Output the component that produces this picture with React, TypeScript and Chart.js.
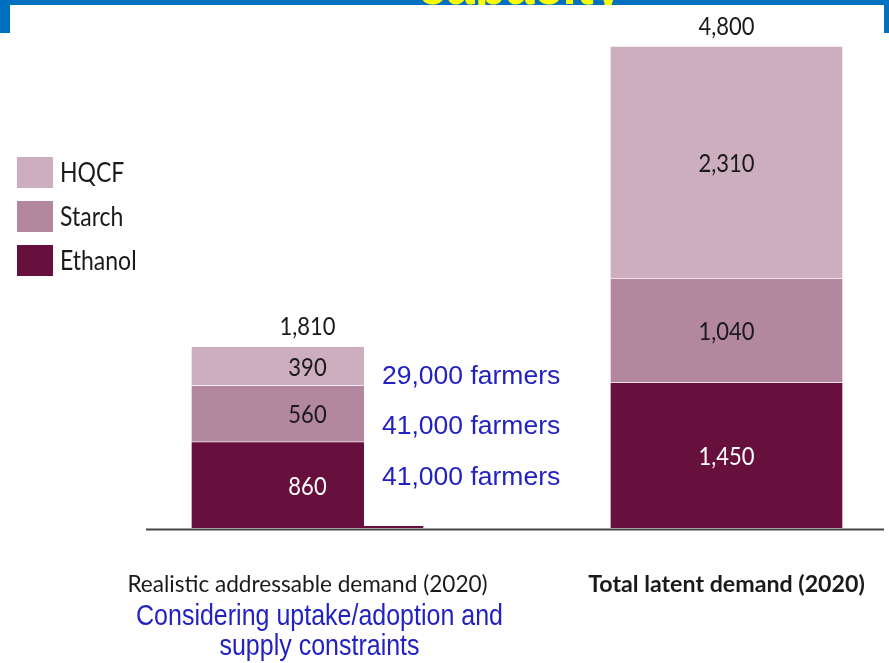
import React, { useEffect, useRef } from 'react';
import { Chart, registerables } from 'chart.js';

Chart.register(...registerables);

const categories = ['Realistic addressable demand (2020)', 'Total latent demand (2020)'];
const ethanol = [860, 1450];
const starch = [560, 1040];
const hqcf = [390, 2310];
const seriesNames = ['Ethanol', 'Starch', 'HQCF'];
const seriesColors = ['#67103E', '#B3889F', '#CDAEBF'];
const legendOrder = ['HQCF', 'Starch', 'Ethanol'];
const farmerNotes = ['29,000 farmers', '41,000 farmers', '41,000 farmers'];
const subtitleLines = ['Considering uptake/adoption and', 'supply constraints'];
const titleFragment = 'capacity';
const yMax = 4800;

const LATO = 'Lato, "Open Sans", sans-serif';
const ARIAL = '"Liberation Sans", Arial, sans-serif';
const NOTE_BLUE = '#2222C2';
const TEXT = '#1a1a1a';

const fmt = (v: number) => v.toLocaleString('en-US');

function stretchedText(ctx: any, text: string, x: number, y: number, sy: number) {
  ctx.save();
  ctx.translate(x, y);
  ctx.scale(1, sy);
  ctx.fillText(text, 0, 0);
  ctx.restore();
}

const framePlugin = {
  id: 'frame',
  beforeDraw(chart: any) {
    const { ctx, width, height } = chart;
    ctx.save();
    ctx.fillStyle = '#ffffff';
    ctx.fillRect(0, 0, width, height);
    ctx.fillStyle = '#0070C0';
    ctx.fillRect(0, 0, width, 33);
    ctx.fillStyle = '#FFFF00';
    ctx.font = 'bold 51px ' + ARIAL;
    ctx.textAlign = 'left';
    ctx.textBaseline = 'alphabetic';
    ctx.fillText(titleFragment, 418, 4);
    ctx.fillStyle = '#ffffff';
    ctx.fillRect(10, 5, 874, 40);
    ctx.restore();
  },
};

const annotatePlugin = {
  id: 'annotate',
  afterDatasetsDraw(chart: any) {
    const { ctx } = chart;
    const yScale = chart.scales.y;
    const base = yScale.getPixelForValue(0);
    ctx.save();

    // baseline axis line
    ctx.strokeStyle = '#444444';
    ctx.lineWidth = 2;
    ctx.beginPath();
    ctx.moveTo(146, base + 1.5);
    ctx.lineTo(884, base + 1.5);
    ctx.stroke();

    const n = chart.data.labels.length;
    const dsCount = chart.data.datasets.length;

    // white panel over right part of first bar
    const first = chart.getDatasetMeta(0).data[0];
    const topFirst = chart.getDatasetMeta(dsCount - 1).data[0];
    const barRight = first.x + first.width / 2;
    ctx.fillStyle = '#ffffff';
    ctx.fillRect(barRight - 60, topFirst.y - 1, 61, base - 2 - (topFirst.y - 1));

    // segment value labels
    ctx.textAlign = 'center';
    ctx.textBaseline = 'middle';
    ctx.font = '22px ' + LATO;
    for (let d = 0; d < dsCount; d++) {
      const meta = chart.getDatasetMeta(d);
      meta.data.forEach((el: any, i: number) => {
        const v = chart.data.datasets[d].data[i];
        ctx.fillStyle = d === 0 ? '#ffffff' : TEXT;
        stretchedText(ctx, fmt(v), el.x, (el.y + el.base) / 2 + 2, 1.12);
      });
    }
    // totals
    for (let i = 0; i < n; i++) {
      let sum = 0;
      for (let d = 0; d < dsCount; d++) sum += chart.data.datasets[d].data[i];
      const topEl = chart.getDatasetMeta(dsCount - 1).data[i];
      ctx.fillStyle = TEXT;
      stretchedText(ctx, fmt(sum), topEl.x, topEl.y - 19, 1.12);
    }

    // farmer notes
    ctx.textAlign = 'left';
    ctx.font = '26.5px ' + ARIAL;
    ctx.fillStyle = NOTE_BLUE;
    farmerNotes.forEach((t, k) => {
      ctx.fillText(t, barRight - 42, topFirst.y + 30 + k * 50.75);
    });

    // subtitle under first category
    ctx.textAlign = 'center';
    ctx.textBaseline = 'alphabetic';
    ctx.font = '25px ' + ARIAL;
    subtitleLines.forEach((t, k) => {
      stretchedText(ctx, t, first.x + 12, 625 + k * 30, 1.15);
    });

    // legend
    ctx.textAlign = 'left';
    ctx.textBaseline = 'middle';
    ctx.font = '23px ' + LATO;
    legendOrder.forEach((name, k) => {
      const idx = seriesNames.indexOf(name);
      const y = 157 + k * 44;
      ctx.fillStyle = seriesColors[idx];
      ctx.fillRect(17, y, 36, 31);
      ctx.fillStyle = TEXT;
      stretchedText(ctx, name, 60, y + 17, 1.14);
    });

    ctx.restore();
  },
};

export default function App() {
  const ref = useRef<HTMLCanvasElement>(null);

  useEffect(() => {
    if (!ref.current) return;
    const values = [ethanol, starch, hqcf];
    const chart = new Chart(ref.current, {
      type: 'bar',
      data: {
        labels: categories,
        datasets: seriesNames.map((name, i) => ({
          label: name,
          data: values[i],
          backgroundColor: seriesColors[i],
          borderColor: 'rgba(255,255,255,0.35)',
          borderWidth: 1,
          barThickness: 233,
          clip: false as any,
        })),
      },
      options: {
        responsive: false,
        animation: false,
        events: [],
        layout: { padding: { top: 46, left: 307.5, right: 162.5, bottom: 0 } },
        plugins: {
          legend: { display: false },
          tooltip: { enabled: false },
        },
        scales: {
          x: {
            stacked: true,
            offset: false,
            grid: { display: false, drawTicks: false },
            border: { display: false },
            ticks: {
              maxRotation: 0,
              minRotation: 0,
              autoSkip: false,
              padding: 43,
              color: TEXT,
              font: (ctx: any) => ({
                family: LATO,
                size: ctx.index === 1 ? 23.2 : 22.6,
                weight: ctx.index === 1 ? 'bold' : 'normal',
              }),
            },
            afterFit: (scale: any) => {
              scale.height = 135;
              scale.paddingLeft = 0;
              scale.paddingRight = 0;
            },
          },
          y: {
            stacked: true,
            display: false,
            min: 0,
            max: yMax,
          },
        },
      },
      plugins: [framePlugin, annotatePlugin],
    });
    return () => chart.destroy();
  }, []);

  return (
    <div style={{ position: 'absolute', left: 0, top: 0, width: 889, height: 663 }}>
      <canvas ref={ref} width={889} height={663} />
    </div>
  );
}
